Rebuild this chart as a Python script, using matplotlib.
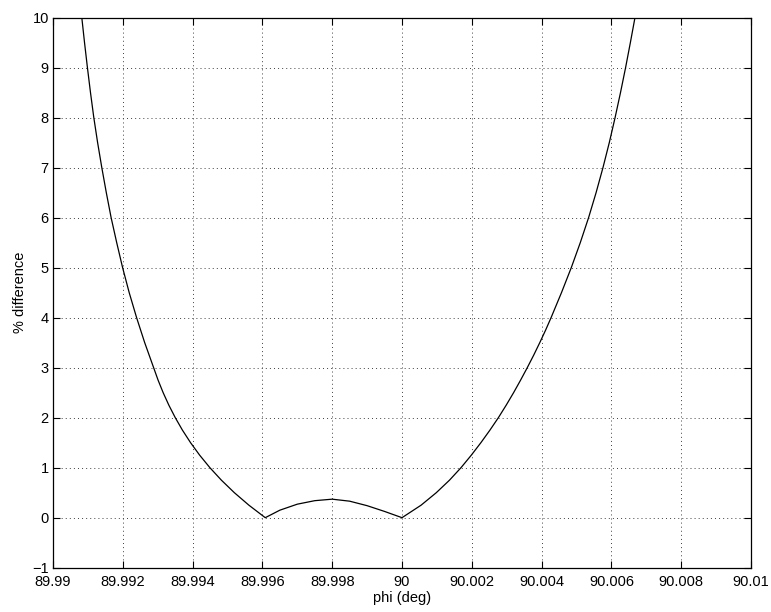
import matplotlib
matplotlib.use("Agg")
import matplotlib.pyplot as plt

# Data
phi_deg = [89.990825, 89.990903, 89.990986, 89.991074, 89.991169, 89.991278, 89.991398,
           89.991527, 89.991665, 89.991825, 89.991994, 89.992183, 89.992395, 89.992627,
           89.992883, 89.993011, 89.993156, 89.993319, 89.993503, 89.993709, 89.993941,
           89.994202, 89.994495, 89.994825, 89.995196, 89.995613, 89.996082,
           89.99650, 89.99700, 89.99750, 89.99800, 89.99850, 89.99900, 89.99950,
           90.000000, 90.000547, 90.000983, 90.001361, 90.001691, 90.001986, 90.002261,
           90.002519, 90.002762, 90.002986, 90.003198, 90.003398, 90.003590, 90.003774,
           90.003948, 90.004115, 90.004272, 90.004570, 90.004851, 90.005109, 90.005347,
           90.005562, 90.005759, 90.005940, 90.006106, 90.006261, 90.006407, 90.006544,
           90.006676]
pct_diff = [10.0, 9.5, 9.0, 8.5, 8.0, 7.5, 7.0,
            6.5, 6.0, 5.5, 5.0, 4.5, 4.0, 3.5,
            3.0, 2.75, 2.5, 2.25, 2.0, 1.75, 1.5,
            1.25, 1.0, 0.75, 0.5, 0.25, 0.0,
            0.15, 0.27, 0.34, 0.37, 0.33, 0.24, 0.125,
            0.0, 0.25, 0.5, 0.75, 1.0, 1.25, 1.5,
            1.75, 2.0, 2.25, 2.5, 2.75, 3.0, 3.25,
            3.5, 3.75, 4.0, 4.5, 5.0, 5.5, 6.0,
            6.5, 7.0, 7.5, 8.0, 8.5, 9.0, 9.5,
            10.0]

x_ticks = [89.99, 89.992, 89.994, 89.996, 89.998, 90.0, 90.002, 90.004, 90.006, 90.008, 90.01]
x_tick_labels = ["89.99", "89.992", "89.994", "89.996", "89.998", "90", "90.002",
                 "90.004", "90.006", "90.008", "90.01"]
y_ticks = [-1, 0, 1, 2, 3, 4, 5, 6, 7, 8, 9, 10]

plt.rcParams['font.family'] = ['Liberation Sans', 'DejaVu Sans']

fig = plt.figure(figsize=(7.71, 6.12), dpi=100)
ax = fig.add_axes([53 / 771, (612 - 567.7) / 612, (751 - 53) / 771, (567.7 - 17.5) / 612])

ax.plot(phi_deg, pct_diff, color='black', linewidth=0.9, clip_on=True)

ax.set_xlim(89.99, 90.01)
ax.set_ylim(-1, 10)
ax.set_xticks(x_ticks)
ax.set_xticklabels(x_tick_labels)
ax.set_yticks(y_ticks)

ax.grid(True, color='0.25', linestyle=(0, (1, 3.2)), linewidth=0.7)
ax.tick_params(direction='in', length=5, width=0.8, top=True, right=True,
               labelsize=10.5)
ax.tick_params(axis='x', pad=5)
ax.tick_params(axis='y', pad=3)
for s in ax.spines.values():
    s.set_linewidth(0.9)

ax.set_xlabel('phi (deg)', fontsize=10.5, labelpad=2)
ax.set_ylabel('% difference', fontsize=10.5, labelpad=4)

fig.savefig('out.png', dpi=100)
